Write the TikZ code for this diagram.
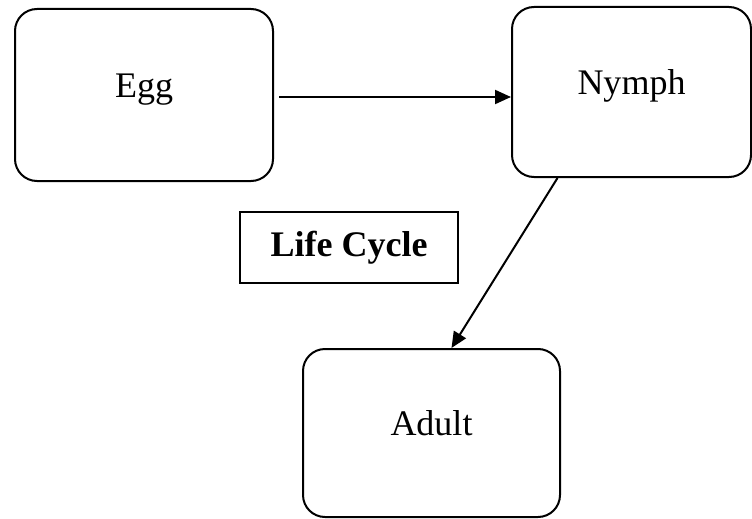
\documentclass[tikz,border=0pt]{standalone}
\usepackage{fontspec}
\setmainfont{Liberation Serif}
\usetikzlibrary{arrows.meta}
\begin{document}
\begin{tikzpicture}[x=1pt, y=1pt, line width=2pt, >={Triangle[length=16pt,width=14pt]},
  stage/.style = {draw, rounded corners=22pt, text height=24pt, text depth=19pt, font=\fontsize{36}{43}\selectfont},
  title/.style = {draw, font=\fontsize{36}{43}\selectfont\bfseries}]
\useasboundingbox (0,0) rectangle (752,-519);
\node[stage, minimum width=258pt, minimum height=172pt] (egg) at (144,-95) {Egg};
\node[stage, minimum width=239pt, minimum height=170pt] (nymph) at (631.5,-92) {Nymph};
\node[stage, minimum width=257pt, minimum height=168pt] (adult) at (431.5,-433) {Adult};
\node[title, minimum width=218pt, minimum height=71pt] (cycle) at (349,-247.5) {Life Cycle};
\draw[->, shorten <=5pt] ([yshift=-2pt]egg.east) -- ([yshift=-2pt]egg.east -| nymph.west);
\draw[->] ([xshift=-74pt]nymph.south) -- ([xshift=20pt]adult.north);
\end{tikzpicture}
\end{document}
